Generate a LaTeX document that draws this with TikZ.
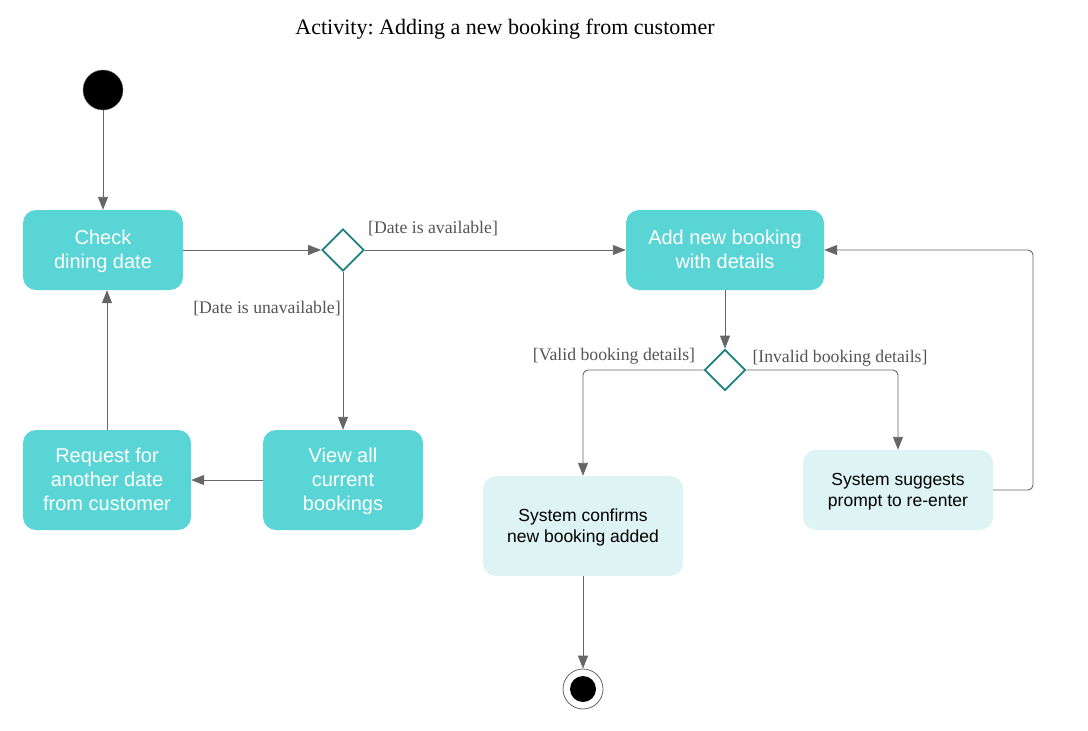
\documentclass[tikz,border=0pt]{standalone}
\usepackage{fontspec}
\setmainfont{Liberation Serif}
\newfontfamily\boxfont{Liberation Sans}
\usetikzlibrary{arrows.meta,shapes.geometric}
\definecolor{actfill}{HTML}{5AD5D6}
\definecolor{lightfill}{HTML}{DDF3F4}
\definecolor{teal2}{HTML}{1A8080}
\definecolor{linegray}{HTML}{666666}
\definecolor{labelgray}{HTML}{555555}
\frenchspacing
\tikzset{
  act/.style={draw=none, fill=actfill, rounded corners=13pt, inner sep=0pt, align=center,
    text=white, font=\boxfont\fontsize{20}{24}\selectfont},
  sysact/.style={draw=none, fill=lightfill, rounded corners=13pt, inner sep=0pt, align=center,
    text=black, font=\boxfont\fontsize{17.5}{21}\selectfont},
  decision/.style={diamond, draw=teal2, line width=1.8pt, fill=white, minimum width=42pt,
    minimum height=42pt, inner sep=0pt},
  flow/.style={draw=linegray, line width=0.9pt, -{Triangle[length=13pt,width=10pt]}, rounded corners=5pt},
  guard/.style={text=labelgray, font=\fontsize{17.7}{20}\selectfont, inner sep=0pt},
}
\begin{document}
\begin{tikzpicture}[x=1pt,y=-1pt]
\useasboundingbox (0,0) rectangle (1088,731);
\node[font=\fontsize{22}{24}\selectfont, inner sep=0pt] (title) at (505,29) {Activity: Adding a new booking from customer};

\node[circle, fill=black, draw=linegray, line width=0.4pt, minimum size=40pt, inner sep=0pt] (start) at (103,90) {};

\node[act, minimum width=160pt, minimum height=80pt] (check) at (103,250) {\strut Check\\dining date};
\node[decision] (d1) at (343,250) {};
\node[act, minimum width=198pt, minimum height=80pt] (add) at (725,250) {\strut Add new booking\\with details\vphantom{g}};
\node[act, minimum width=160pt, minimum height=100pt] (view) at (343,480) {\strut View all\\current\\bookings};
\node[act, minimum width=168pt, minimum height=100pt] (req) at (107,480) {\strut Request for\\another date\\from customer\vphantom{g}};
\node[decision, minimum width=41pt, minimum height=41pt] (d2) at (725,370) {};
\node[sysact, minimum width=200pt, minimum height=100pt] (conf) at (583,526) {\strut System confirms\\new booking added};
\node[sysact, minimum width=190pt, minimum height=80pt] (sugg) at (898,490) {\strut System suggests\\prompt to re-enter};

\node[circle, draw=linegray, line width=0.8pt, fill=white, minimum size=40pt, inner sep=0pt] (endo) at (583,689) {};
\node[circle, fill=black, minimum size=26pt, inner sep=0pt] (endi) at (583,689) {};

\draw[flow] (start) -- (check);
\draw[flow] (check) -- (d1);
\draw[flow] (d1) -- (add);
\draw[flow] (d1) -- (view);
\draw[flow] (view) -- (req);
\draw[flow] (req.north) -- (req.north |- check.south);
\draw[flow] (add) -- (d2);
\draw[flow] (d2.west) -| (conf.north);
\draw[flow] (d2.east) -| (sugg.north);
\coordinate (loopc) at (1033,490);
\draw[flow] (sugg.east) -- (loopc) |- (add.east);
\draw[flow] (conf) -- (endo);

\node[guard] (g1) at (433,229) {[Date is available]};
\node[guard] (g2) at (267,309) {[Date is unavailable]};
\node[guard] (g3) at (614,356) {[Valid booking details]};
\node[guard] (g4) at (840,358) {[Invalid booking details]};
\end{tikzpicture}
\end{document}
